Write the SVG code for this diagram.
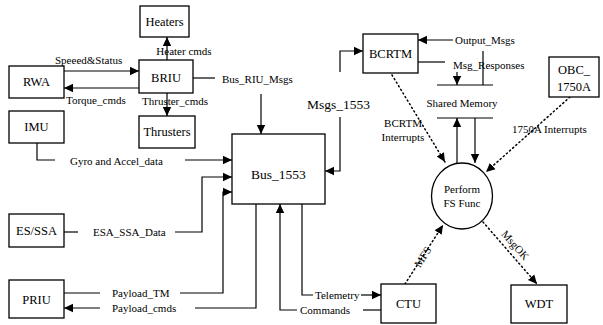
<svg xmlns="http://www.w3.org/2000/svg" width="603" height="325" viewBox="0 0 603 325" font-family="'Liberation Serif', 'DejaVu Serif', serif">
<defs>
<marker id="ah" markerUnits="userSpaceOnUse" markerWidth="10" markerHeight="10" viewBox="0 0 10 10" refX="9" refY="5" orient="auto">
<path d="M0,0.8 L9,5 L0,9.2 Z" fill="#000"/>
</marker>
</defs>
<style>
.box{fill:#fff;stroke:#000;stroke-width:1.3}
.ln{fill:none;stroke:#000;stroke-width:1.2}
.dot{fill:none;stroke:#000;stroke-width:1.5;stroke-dasharray:1.2 3;stroke-linecap:round}
.arr{marker-end:url(#ah)}
text{font-family:'Liberation Serif','DejaVu Serif',serif;fill:#000}
.bl{font-size:12.5px;text-anchor:middle}
.big{font-size:13.5px}
.lb{font-size:11px}
.mid{text-anchor:middle}
</style>
<rect width="603" height="325" fill="#fff"/>
<g id="connectors">
<path class="ln arr" d="M167,60 V37"/>
<path class="ln arr" d="M167,93 V116"/>
<path class="ln arr" d="M64,71 H139"/>
<path class="ln arr" d="M139,88 H64"/>
<path class="ln" d="M193,78 H215"/>
<path class="ln arr" d="M261,94 V134"/>
<path class="ln" d="M37,143 V160 H55"/>
<path class="ln arr" d="M185,160 H232"/>
<path class="ln" d="M64,232 H78"/>
<path class="ln arr" d="M175,232 H202 V177 H232"/>
<path class="ln" d="M64,293 H100"/>
<path class="ln arr" d="M180,293 H223 V192 H232"/>
<path class="ln" d="M256,204 V308 H195"/>
<path class="ln arr" d="M100,308 H64"/>
<path class="ln" d="M381,310 H363"/>
<path class="ln arr" d="M297,310 H280 V204"/>
<path class="ln" d="M302,204 V295 H313"/>
<path class="ln arr" d="M361,295 H381"/>
<path class="ln arr" d="M340,117 V171 H325"/>
<path class="ln arr" d="M340,72 V51 H363"/>
<path class="ln arr" d="M453,40 H418"/>
<path class="ln" d="M483,51 V85"/>
<path class="ln" d="M418,62 H445"/>
<path class="ln arr" d="M457,72 V85"/>
<path class="ln" d="M437,85 H493 M437,118 H493"/>
<path class="ln arr" d="M457,163 V118"/>
<path class="ln arr" d="M475,118 V163"/>
<path class="dot arr" d="M392,75 L445,162"/>
<path class="dot arr" d="M570,97 L486,172"/>
<path class="dot arr" d="M405,284 L443,225"/>
<path class="dot arr" d="M483,222 L537,284"/>
<text class="lb mid" x="184" y="55">Heater cmds</text>
<text class="lb" x="55" y="64">Speeed&amp;Status</text>
<text class="lb" x="66" y="104">Torque_cmds</text>
<text class="lb" x="142" y="105">Thruster_cmds</text>
<text class="lb" x="222" y="83">Bus_RIU_Msgs</text>
<text class="big" x="307" y="109">Msgs_1553</text>
<text class="lb" x="455" y="44">Output_Msgs</text>
<text class="lb" x="453" y="69">Msg_Responses</text>
<text class="lb mid" x="462" y="107">Shared Memory</text>
<text class="lb mid" x="403" y="127">BCRTM</text>
<text class="lb mid" x="403" y="141">Interrupts</text>
<text class="lb" x="512" y="133">1750A Interrupts</text>
<text class="lb" x="70" y="165">Gyro and Accel_data</text>
<text class="lb" x="93" y="236">ESA_SSA_Data</text>
<text class="lb" x="112" y="297">Payload_TM</text>
<text class="lb" x="112" y="312">Payload_cmds</text>
<text class="lb" x="315" y="299">Telemetry</text>
<text class="lb" x="300" y="314">Commands</text>
<text class="lb mid" transform="translate(423,257) rotate(-57)" y="3.5">MFS</text>
<text class="lb mid" transform="translate(511,249) rotate(48.5)" y="-2">MsgOK</text>
</g>
<g id="heaters"><rect class="box" x="140" y="6" width="49" height="31"/><text class="bl" x="164.5" y="26">Heaters</text></g>
<g id="briu"><rect class="box" x="139" y="60" width="54" height="33"/><text class="bl" x="166" y="82">BRIU</text></g>
<g id="rwa"><rect class="box" x="9" y="66" width="55" height="32"/><text class="bl" x="36.5" y="86">RWA</text></g>
<g id="imu"><rect class="box" x="9" y="111" width="55" height="32"/><text class="bl" x="36.5" y="131">IMU</text></g>
<g id="thrusters"><rect class="box" x="139" y="116" width="56" height="32"/><text class="bl" x="167" y="136">Thrusters</text></g>
<g id="bus1553"><rect class="box" x="232" y="134" width="93" height="70"/><text class="bl big" x="278.5" y="179">Bus_1553</text></g>
<g id="essa"><rect class="box" x="9" y="214" width="55" height="33"/><text class="bl" x="36.5" y="235">ES/SSA</text></g>
<g id="priu"><rect class="box" x="9" y="280" width="55" height="38"/><text class="bl" x="36.5" y="304">PRIU</text></g>
<g id="ctu"><rect class="box" x="381" y="284" width="55" height="39"/><text class="bl" x="408.5" y="308">CTU</text></g>
<g id="wdt"><rect class="box" x="511" y="285" width="56" height="38"/><text class="bl" x="539" y="308">WDT</text></g>
<g id="bcrtm"><rect class="box" x="363" y="34" width="55" height="39"/><text class="bl" x="390.5" y="58">BCRTM</text></g>
<g id="obc"><rect class="box" x="549" y="57" width="50" height="40"/><text class="bl" x="574" y="74">OBC_</text><text class="bl" x="574" y="91">1750A</text></g>
<g id="perform"><ellipse class="box" cx="462" cy="196" rx="30.5" ry="33"/><text class="lb mid" x="462" y="193">Perform</text><text class="lb mid" x="462" y="207">FS Func</text></g>
</svg>
